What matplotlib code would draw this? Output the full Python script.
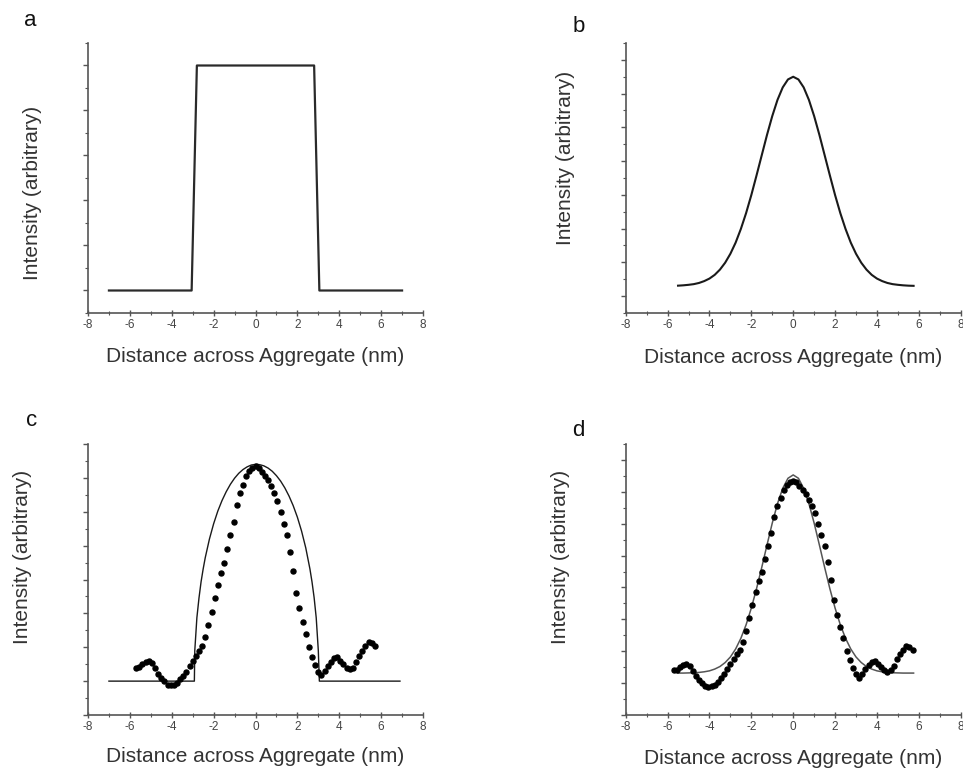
import matplotlib
matplotlib.use("Agg")
import matplotlib.pyplot as plt
from matplotlib.ticker import MultipleLocator

plt.rcParams['font.family'] = ['Liberation Sans', 'DejaVu Sans']
plt.rcParams['axes.unicode_minus'] = False

# a: square profile
rect_x = [-7.0, -3.05, -2.8, 2.8, 3.05, 7.0]
rect_y = [0.0, 0.0, 1.0, 1.0, 0.0, 0.0]

# b / d: gaussian profiles, sampled every 0.25 nm
gauss_x = [-5.75, -5.5, -5.25, -5.0, -4.75, -4.5, -4.25, -4.0, -3.75, -3.5, -3.25, -3.0,
           -2.75, -2.5, -2.25, -2.0, -1.75, -1.5, -1.25, -1.0, -0.75, -0.5, -0.25, 0.0,
           0.25, 0.5, 0.75, 1.0, 1.25, 1.5, 1.75, 2.0, 2.25, 2.5, 2.75, 3.0,
           3.25, 3.5, 3.75, 4.0, 4.25, 4.5, 4.75, 5.0, 5.25, 5.5, 5.75]
gauss_b = [0.061, 0.062, 0.064, 0.067, 0.071, 0.078, 0.089, 0.104, 0.126, 0.157, 0.198, 0.251,
           0.317, 0.398, 0.492, 0.599, 0.716, 0.836, 0.956, 1.067, 1.163, 1.237, 1.284, 1.300,
           1.284, 1.237, 1.163, 1.067, 0.956, 0.836, 0.716, 0.599, 0.492, 0.398, 0.317, 0.251,
           0.198, 0.157, 0.126, 0.104, 0.089, 0.078, 0.071, 0.067, 0.064, 0.062, 0.061]
gauss_d = [0.063, 0.063, 0.063, 0.064, 0.065, 0.067, 0.071, 0.077, 0.088, 0.104, 0.129, 0.164,
           0.214, 0.281, 0.366, 0.471, 0.593, 0.727, 0.867, 1.004, 1.126, 1.222, 1.285, 1.306,
           1.285, 1.222, 1.126, 1.004, 0.867, 0.727, 0.593, 0.471, 0.366, 0.281, 0.214, 0.164,
           0.129, 0.104, 0.088, 0.077, 0.071, 0.067, 0.065, 0.064, 0.063, 0.063, 0.063]

# c: rounded (elliptic) model profile
ell_x = [-7.0, -2.92, -2.9, -2.8, -2.7, -2.6, -2.5, -2.4, -2.2, -2.0, -1.8, -1.6, -1.4, -1.2,
         -1.0, -0.8, -0.6, -0.4, -0.2, 0.0, 0.2, 0.4, 0.6, 0.8, 1.0, 1.2, 1.4, 1.6, 1.8,
         2.0, 2.2, 2.4, 2.6, 2.7, 2.8, 2.9, 3.0, 3.05, 6.9]
ell_y = [0.0, 0.0, 0.18, 0.374, 0.49, 0.586, 0.662, 0.729, 0.839, 0.929, 1.004, 1.066, 1.118, 1.162,
         1.198, 1.227, 1.249, 1.265, 1.276, 1.28, 1.278, 1.271, 1.258, 1.239, 1.213, 1.181, 1.141, 1.093, 1.036,
         0.968, 0.886, 0.787, 0.662, 0.585, 0.493, 0.374, 0.18, 0.0, 0.0]

# measured intensity profile (dots in c and d)
prof_x = [-5.70, -5.55, -5.40, -5.25, -5.10, -4.95, -4.80, -4.65, -4.50, -4.35, -4.20, -4.05,
          -3.90, -3.75, -3.60, -3.45, -3.30, -3.15, -3.00, -2.85, -2.70, -2.55, -2.40, -2.25,
          -2.10, -1.95, -1.80, -1.65, -1.50, -1.35, -1.20, -1.05, -0.90, -0.75, -0.60, -0.45,
          -0.30, -0.15, 0.00, 0.15, 0.30, 0.45, 0.60, 0.75, 0.90, 1.05, 1.20, 1.35,
          1.50, 1.65, 1.80, 1.95, 2.10, 2.25, 2.40, 2.55, 2.70, 2.85, 3.00, 3.15,
          3.30, 3.45, 3.60, 3.75, 3.90, 4.05, 4.20, 4.35, 4.50, 4.65, 4.80, 4.95,
          5.10, 5.25, 5.40, 5.55, 5.70]
prof_y = [0.08, 0.085, 0.10, 0.115, 0.12, 0.105, 0.075, 0.045, 0.02, 0.0, -0.02, -0.025,
          -0.02, -0.01, 0.01, 0.03, 0.055, 0.09, 0.12, 0.15, 0.18, 0.21, 0.26, 0.33,
          0.41, 0.49, 0.57, 0.64, 0.70, 0.78, 0.86, 0.94, 1.04, 1.11, 1.16, 1.21,
          1.24, 1.26, 1.27, 1.26, 1.235, 1.21, 1.185, 1.15, 1.11, 1.065, 1.00, 0.93,
          0.86, 0.76, 0.65, 0.52, 0.43, 0.35, 0.28, 0.20, 0.145, 0.095, 0.055, 0.035,
          0.06, 0.09, 0.115, 0.135, 0.14, 0.12, 0.10, 0.08, 0.07, 0.08, 0.11, 0.15,
          0.18, 0.21, 0.23, 0.225, 0.205]

W, H = 963, 768
fig = plt.figure(figsize=(W / 100, H / 100), dpi=100)

axis_col = '#555555'
ink = '#1a1a1a'


def make_axes(left, top, bottom, ylo, yhi):
    ax = fig.add_axes([left / W, 1 - bottom / H, 335 / W, (bottom - top) / H])
    ax.set_xlim(-8, 8)
    ax.set_ylim(ylo, yhi)
    for s in ['top', 'right']:
        ax.spines[s].set_visible(False)
    for s in ['left', 'bottom']:
        ax.spines[s].set_color(axis_col)
        ax.spines[s].set_linewidth(1.2)
    ax.xaxis.set_major_locator(MultipleLocator(2))
    ax.xaxis.set_minor_locator(MultipleLocator(1))
    ax.yaxis.set_major_locator(MultipleLocator(0.2))
    ax.yaxis.set_minor_locator(MultipleLocator(0.1))
    ax.tick_params(axis='x', which='major', direction='inout', length=4, width=1, color=axis_col,
                   labelsize=8.5, labelcolor='#444444', pad=2)
    ax.tick_params(axis='x', which='minor', direction='inout', length=3, width=0.8, color=axis_col)
    ax.tick_params(axis='y', which='major', direction='out', length=3.5, width=1, color=axis_col,
                   labelleft=False)
    ax.tick_params(axis='y', which='minor', direction='out', length=2, width=0.8, color=axis_col)
    ax.patch.set_alpha(0)
    return ax


ax_a = make_axes(88, 43, 313, -0.1, 1.1)
ax_b = make_axes(625.7, 43, 313, -0.1, 1.5)
ax_c = make_axes(88, 444, 715, -0.2, 1.4)
ax_d = make_axes(625.7, 444, 715, -0.2, 1.5)

ax_a.plot(rect_x, rect_y, color='#2a2a2a', lw=1.6)
ax_b.plot(gauss_x[1:], gauss_b[1:], color=ink, lw=1.5)
ax_c.plot(ell_x, ell_y, color=ink, lw=1.0)
ax_c.plot(prof_x, prof_y, ls='none', marker='o', ms=3.6, color='black')
ax_d.plot(gauss_x[1:], gauss_d[1:], color='#555555', lw=1.1)
ax_d.plot(prof_x, prof_y, ls='none', marker='o', ms=3.6, color='black')

# panel letters
for lbl, px, py in [('a', 30, 21), ('b', 579, 26), ('c', 32, 420), ('d', 578, 430)]:
    fig.text(px / W, 1 - py / H, lbl, fontsize=16, ha='center', va='center', color='#111111')

# axis titles
for px, py in [(33, 193), (565, 158), (22, 557), (560, 557)]:
    fig.text(px / W, 1 - py / H, 'Intensity (arbitrary)', rotation=90, fontsize=15,
             ha='center', va='center', color='#333333')
for px, py in [(255.5, 357), (793, 358), (255.5, 757), (793, 759)]:
    fig.text(px / W, 1 - py / H, 'Distance across Aggregate (nm)', fontsize=15,
             ha='center', va='center', color='#333333')

fig.savefig('out.png', dpi=100)
